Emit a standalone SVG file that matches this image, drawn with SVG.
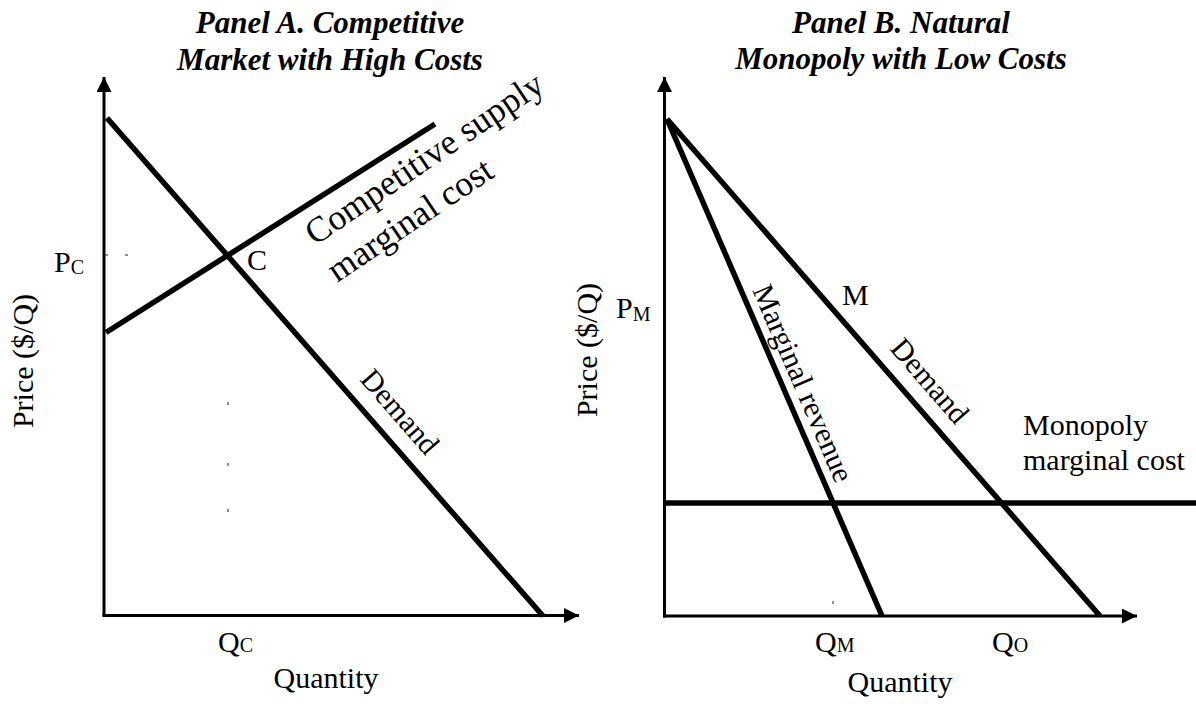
<svg xmlns="http://www.w3.org/2000/svg" width="1196" height="706" viewBox="0 0 1196 706">
<defs>
<marker id="arrow" markerWidth="16" markerHeight="16" refX="15" refY="7.5" orient="auto" markerUnits="userSpaceOnUse">
<path d="M0,0 L15,7.5 L0,15 Z" fill="#000"/>
</marker>
<style>
.axis{stroke:#000;stroke-width:3;fill:none}
.curve{stroke:#000;stroke-width:5.5;fill:none;stroke-linecap:butt}
.speck{stroke:#444;stroke-width:1.2}
text{font-family:"Liberation Serif","Times New Roman",serif;fill:#000}
.title{font-size:31px;font-weight:bold;font-style:italic;text-anchor:middle}
.lbl{font-size:30px}
.big{font-size:35.5px}
.sub{font-size:20px}
</style>
</defs>
<rect width="1196" height="706" fill="#fff"/>

<g id="panel-a">
  <g id="title-a">
    <text class="title" x="330" y="33">Panel A. Competitive</text>
    <text class="title" x="330" y="70">Market with High Costs</text>
  </g>
  <g id="axes-a">
    <line class="axis" x1="104" y1="616" x2="104" y2="77" marker-end="url(#arrow)"/>
    <line class="axis" x1="102.5" y1="615.5" x2="579" y2="615.5" marker-end="url(#arrow)"/>
    <text class="lbl" transform="translate(33,361) rotate(-90)" text-anchor="middle">Price ($/Q)</text>
    <text class="lbl" x="326" y="688" text-anchor="middle">Quantity</text>
    <text class="lbl" x="54" y="272">P<tspan class="sub" dy="2">C</tspan></text>
    <text class="lbl" x="218" y="652">Q<tspan class="sub">C</tspan></text>
  </g>
  <g id="specks-a">
    <line class="speck" x1="105" y1="255" x2="108" y2="255"/>
    <line class="speck" x1="125" y1="255" x2="128" y2="255"/>
    <line class="speck" x1="228" y1="402" x2="228" y2="405"/>
    <line class="speck" x1="228" y1="463" x2="228" y2="466"/>
    <line class="speck" x1="228" y1="509" x2="228" y2="512"/>
  </g>
  <g id="connectors-a">
    <line id="demand-a" class="curve" x1="107" y1="118" x2="543" y2="616"/>
    <line id="supply-a" class="curve" x1="106" y1="332.5" x2="435" y2="124"/>
  </g>
  <g id="labels-a">
    <text class="lbl" x="247" y="270">C</text>
    <text class="big" transform="translate(315,246) rotate(-34)">Competitive supply</text>
    <text class="big" transform="translate(337,283) rotate(-34)">marginal cost</text>
    <text class="lbl" transform="translate(359,380) rotate(48.8)">Demand</text>
  </g>
</g>

<g id="panel-b">
  <g id="title-b">
    <text class="title" x="901" y="33">Panel B. Natural</text>
    <text class="title" x="901" y="69">Monopoly with Low Costs</text>
  </g>
  <g id="axes-b">
    <line class="axis" x1="664.5" y1="617.5" x2="664.5" y2="77" marker-end="url(#arrow)"/>
    <line class="axis" x1="663" y1="616" x2="1137" y2="616" marker-end="url(#arrow)"/>
    <text class="lbl" transform="translate(597,350) rotate(-90)" text-anchor="middle">Price ($/Q)</text>
    <text class="lbl" x="900" y="692" text-anchor="middle">Quantity</text>
    <text class="lbl" x="616" y="318">P<tspan class="sub" dy="3">M</tspan></text>
    <text class="lbl" x="815" y="652">Q<tspan class="sub">M</tspan></text>
    <text class="lbl" x="992" y="652">Q<tspan class="sub">O</tspan></text>
  </g>
  <g id="specks-b">
    <line class="speck" x1="833" y1="601" x2="833" y2="604"/>
  </g>
  <g id="connectors-b">
    <line id="demand-b" class="curve" x1="667" y1="119" x2="1100" y2="616"/>
    <line id="mr-b" class="curve" x1="667" y1="119" x2="882" y2="616"/>
    <line id="mc-b" class="curve" x1="663" y1="503" x2="1196" y2="503"/>
  </g>
  <g id="labels-b">
    <text class="lbl" x="842" y="305">M</text>
    <text class="lbl" transform="translate(752,290) rotate(66.7)">Marginal revenue</text>
    <text class="lbl" transform="translate(889,349) rotate(49)">Demand</text>
    <text class="lbl" x="1023" y="435">Monopoly</text>
    <text class="lbl" x="1023" y="470">marginal cost</text>
  </g>
</g>
</svg>
